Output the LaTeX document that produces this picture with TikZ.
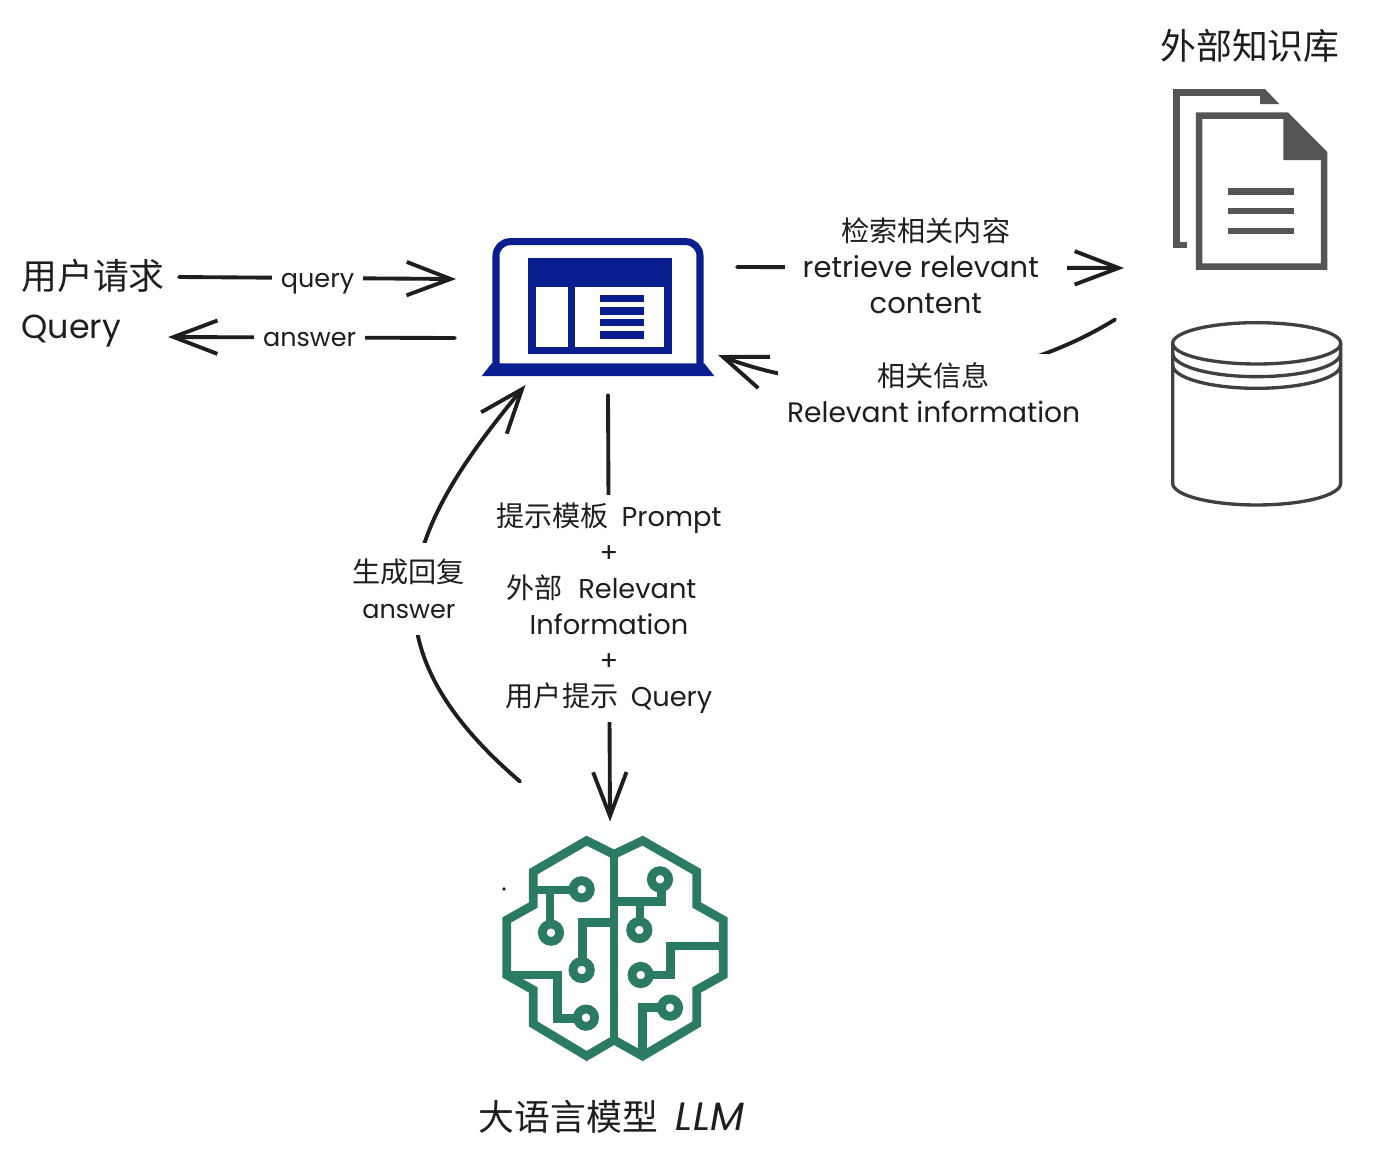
\documentclass[tikz,border=0pt]{standalone}
\usepackage{fontspec}
\setmainfont{Poppins}
\newfontfamily\cjk{Noto Sans CJK SC}
\usetikzlibrary{arrows.meta,calc}
\definecolor{appblue}{HTML}{0A1F8F}
\definecolor{brainteal}{HTML}{2B7A63}
\definecolor{docgray}{HTML}{555555}
\definecolor{inkline}{HTML}{1E1E1E}
\tikzset{
  iconbox/.style={inner sep=0pt,outer sep=0pt},
  flow/.style={inkline,line width=2.2pt,line cap=round,-{Straight Barb[length=25pt,width=19pt,line width=2.2pt]}},
  lab/.style={fill=white,inner sep=5pt,text=inkline,align=center,font=\fontsize{#1}{20.4}\selectfont},
  lab/.default=14.5,
  bigtext/.style={text=inkline,font=\fontsize{20.4}{27.8}\selectfont},
  brainline/.style={brainteal,line width=5pt,line join=miter},
  icon/.style={shift={#1},x=.006667cm,y=-.006667cm}
}
\newcommand{\zh}[1]{{\cjk\fontsize{16}{20.4}\selectfont #1}}
\begin{document}
\begin{tikzpicture}[x=.02cm,y=-.02cm]
\useasboundingbox (0,0) rectangle (1394,1154);

% placeholders for the icons
\node[iconbox,minimum width=4.66cm,minimum height=2.76cm] (app) at (598.5,307) {};
\node[iconbox,minimum width=3.12cm,minimum height=3.6cm] (docs) at (1250,180) {};
\node[iconbox,minimum width=3.4cm,minimum height=3.66cm] (db) at (1257,413) {};
\node[iconbox,minimum width=4.52cm,minimum height=4.54cm] (llm) at (615,948) {};

% texts
\node[bigtext,anchor=west,align=left,inner sep=0pt] (user) at (21,303) {{\cjk 用户请求}\\{\fontsize{19}{27.8}\selectfont Query}};
\node[bigtext] (kb) at (1250,46) {\cjk 外部知识库};
\node[bigtext] (llmtext) at (611.5,1117) {{\cjk 大语言模型}\hspace{.5em}{\fontsize{22.5}{27.8}\selectfont\textit{LLM}}};

% laptop
\begin{scope}[icon={(470,225)}]
  \draw[appblue,line width=4pt,rounded corners=8pt] (78,420) -- (78,50) -- (690,50) -- (690,420);
  \fill[appblue] (35,453) -- (65,415) -- (703,415) -- (733,453) -- cycle;
  \fill[appblue] (174,100) rectangle (605,388);
  \fill[white] (197,185) rectangle (295,365);
  \fill[white] (316,185) rectangle (583,365);
  \foreach \ly in {220,258,293,330}
    \fill[appblue] (390,\ly-11) rectangle (522,\ly+11);
\end{scope}

% stacked documents
\begin{scope}[icon={(1150,75)}]
  \draw[docgray,line width=3.7pt] (112,510) -- (80,510) -- (80,52) -- (340,52);
  \fill[docgray] (330,42) -- (345,42) -- (388,87) -- (330,87) -- cycle;
  \draw[docgray,line width=3.7pt] (147,122) -- (410,122) -- (522,235) -- (522,575) -- (147,575) -- cycle;
  \fill[docgray] (400,115) -- (415,115) -- (530,235) -- (530,255) -- (400,255) -- cycle;
  \foreach \ly in {350,408,468}
    \draw[docgray,line width=3.7pt] (235,\ly) -- (432,\ly);
\end{scope}

% jar
\begin{scope}[icon={(1150,75)},inkline!85,line width=1.9pt]
  \draw (320,805) ellipse [x radius=252,y radius=62];
  \draw (68,835) arc [start angle=180,end angle=0,x radius=252,y radius=70];
  \draw (68,870) arc [start angle=180,end angle=0,x radius=252,y radius=70];
  \draw (68,805) -- (68,1225) arc [start angle=180,end angle=0,x radius=252,y radius=65] -- (572,805);
\end{scope}

% brain
\begin{scope}[icon={(470,820)},brainline]
  \draw (432,103) -- (350,62) -- (190,155) -- (190,255) -- (110,300) -- (110,465) -- (190,510) -- (190,612) -- (350,708) -- (432,660);
  \draw (432,103) -- (518,62) -- (680,155) -- (680,255) -- (760,300) -- (760,465) -- (680,510) -- (680,612) -- (518,708) -- (432,660);
  \draw (432,95) -- (432,670);
  \draw (190,210) -- (335,210);
  \draw (240,210) -- (240,338);
  \draw (432,308) -- (338,308) -- (338,450);
  \draw (110,465) -- (262,465) -- (262,595) -- (348,595);
  \draw (432,245) -- (575,245) -- (575,178);
  \draw (510,245) -- (510,330);
  \draw (760,378) -- (602,378) -- (602,465) -- (512,465);
  \draw (518,708) -- (518,563) -- (600,563);
  \foreach \cx/\cy in {335/208,243/338,335/450,348/593,570/178,508/330,512/465,600/563}
    \draw[fill=white] (\cx,\cy) circle [radius=26];
\end{scope}
\fill[inkline] (504,889) circle [radius=1.8];

% connectors
\draw[flow] ($(user.east)+(14,-26)$) -- node[lab,yshift=-.12cm] {query} ($(app.west)+(-26,-28)$);
\draw[flow] ($(app.west)+(-27,31)$) -- node[lab,xshift=-.04cm,yshift=-.04cm] {answer} ($(user.east)+(3,34)$);
\draw[flow] ($(app.east)+(22,-40)$) -- node[lab=16.5,inner xsep=10pt,pos=.488,yshift=.04cm] {\zh{检索相关内容}\\retrieve relevant\kern.35em\\content} ($(docs.south west)+(-48,-2)$);
\draw[flow] ($(db.north west)+(-57,-2)$) .. controls (1010,385) and (850,405) .. node[lab=16,pos=.5,xshift=.14cm,yshift=-.24cm] {\zh{相关信息}\\Relevant information} ($(app.east)+(3,48)$);
\draw[flow] ($(app.south)+(9.5,19)$) -- node[lab=15.5] {\zh{提示模板}\hspace{.2em} Prompt\\+\\\zh{外部}\hspace{.3em} Relevant\kern.55em\\Information\\+\\\zh{用户提示}\hspace{.2em} Query} ($(llm.north)+(-5,-13)$);
\draw[flow] ($(llm.north west)+(18,-53)$) .. controls (355,640) and (405,530) .. node[lab,inner ysep=9pt,pos=.47,xshift=-.12cm,yshift=.14cm] {\zh{生成回复}\\answer} ($(app.south)+(-73,9)$);
\end{tikzpicture}
\end{document}
